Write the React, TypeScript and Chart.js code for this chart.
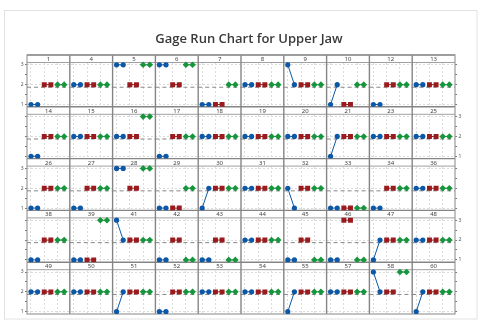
import { useEffect, useRef } from 'react';
import { Chart, registerables } from 'chart.js';

Chart.register(...registerables);

// ---------- data ----------
const title = 'Gage Run Chart for Upper Jaw';

const parts = [
  '1', '4', '5', '6', '7', '8', '9', '10', '12', '13',
  '14', '15', '16', '17', '18', '19', '20', '21', '23', '25',
  '26', '27', '28', '29', '30', '31', '32', '33', '34', '36',
  '38', '39', '41', '42', '43', '44', '45', '46', '47', '48',
  '49', '50', '51', '52', '53', '54', '55', '57', '58', '60',
];

// two trials per part, per operator
const operatorA = [
  [1, 1], [2, 2], [3, 3], [3, 3], [1, 1], [2, 2], [3, 2], [1, 2], [1, 1], [2, 2],
  [1, 1], [2, 2], [2, 2], [1, 1], [2, 2], [2, 2], [2, 2], [1, 2], [2, 2], [2, 2],
  [1, 1], [1, 1], [3, 3], [1, 1], [1, 2], [2, 2], [2, 1], [1, 1], [1, 1], [2, 2],
  [1, 1], [1, 1], [3, 2], [1, 1], [1, 1], [2, 2], [1, 1], [1, 1], [1, 2], [2, 2],
  [2, 2], [2, 2], [1, 2], [1, 1], [2, 2], [2, 2], [1, 2], [2, 2], [3, 2], [1, 2],
];
const operatorB = [
  [2, 2], [2, 2], [2, 2], [2, 2], [1, 1], [2, 2], [2, 2], [1, 1], [2, 2], [2, 2],
  [2, 2], [2, 2], [2, 2], [2, 2], [2, 2], [2, 2], [2, 2], [2, 2], [2, 2], [2, 2],
  [2, 2], [2, 2], [2, 2], [1, 1], [2, 2], [2, 2], [2, 2], [1, 1], [2, 2], [2, 2],
  [2, 2], [1, 1], [2, 2], [2, 2], [2, 2], [2, 2], [2, 2], [3, 3], [2, 2], [2, 2],
  [2, 2], [2, 2], [2, 2], [2, 2], [2, 2], [2, 2], [2, 2], [2, 2], [2, 2], [2, 2],
];
const operatorC = [
  [2, 2], [2, 2], [3, 3], [3, 3], [2, 2], [2, 2], [2, 2], [2, 2], [2, 2], [2, 2],
  [2, 2], [2, 2], [3, 3], [2, 2], [2, 2], [2, 2], [2, 2], [2, 2], [2, 2], [2, 2],
  [2, 2], [2, 2], [3, 3], [2, 2], [2, 2], [2, 2], [2, 2], [1, 1], [2, 2], [2, 2],
  [2, 2], [3, 3], [2, 2], [1, 1], [1, 1], [2, 2], [1, 1], [1, 1], [2, 2], [2, 2],
  [2, 2], [2, 2], [2, 2], [2, 2], [2, 2], [2, 2], [2, 2], [2, 2], [3, 3], [2, 2],
];

const yTicks = [1, 1.5, 2, 2.5, 3];
const xGridTicks = [1, 3, 5];

// ---------- layout / style ----------
const W = 487;
const H = 324;
const NCOLS = 10;
const NROWS = 5;
const X_MIN = 0.4;
const X_MAX = 6.85;
const Y_MIN = 0.884;
const Y_PANEL_TOP = 3.116;
const Y_MAX = 3.494;
const AXIS_W = 10;
const AREA = { left: 27, right: 455, top: 55, bottom: 314 };

const BLUE = '#0c58a6';
const RED = '#9a1b1e';
const GREEN = '#16953d';
const GRID = '#dcdcdc';
const FRAME = '#858585';

const allValues = [...operatorA, ...operatorB, ...operatorC].flat();
const grandMean = allValues.reduce((a, b) => a + b, 0) / allValues.length;

const operators = [
  { name: 'A', values: operatorA, color: BLUE, style: 'circle', radius: 2.6 },
  { name: 'B', values: operatorB, color: RED, style: 'rect', radius: 3.5 },
  { name: 'C', values: operatorC, color: GREEN, style: 'rectRot', radius: 3.3 },
];

function buildDatasets() {
  const datasets: any[] = [];
  parts.forEach((part, i) => {
    const r = Math.floor(i / NCOLS);
    const c = i % NCOLS;
    operators.forEach((op, k) => {
      datasets.push({
        type: 'line',
        label: `Part ${part} – ${op.name}`,
        xAxisID: 'x' + c,
        yAxisID: 'y' + r,
        data: op.values[i].map((v, j) => ({ x: k * 2 + j + 1, y: v })),
        borderColor: op.color,
        backgroundColor: op.color,
        borderWidth: 1,
        pointStyle: op.style,
        pointRadius: op.radius,
        pointBorderWidth: 0,
        pointBackgroundColor: op.color,
        order: 1,
      });
    });
    datasets.push({
      type: 'line',
      label: `Mean ${part}`,
      xAxisID: 'x' + c,
      yAxisID: 'y' + r,
      data: [
        { x: X_MIN, y: grandMean },
        { x: X_MAX, y: grandMean },
      ],
      borderColor: '#858585',
      borderWidth: 1,
      borderDash: [4, 3],
      pointRadius: 0,
      order: 5,
    });
  });
  return datasets;
}

function buildScales() {
  const scales: any = {};
  for (let c = 0; c < NCOLS; c++) {
    scales['x' + c] = {
      type: 'linear',
      axis: 'x',
      position: 'bottom',
      stack: 'cols',
      min: X_MIN,
      max: X_MAX,
      afterBuildTicks: (s: any) => {
        s.ticks = xGridTicks.map((v) => ({ value: v }));
      },
      afterFit: (s: any) => {
        s.height = 0;
      },
      ticks: { display: false, autoSkip: false },
      grid: { color: GRID, lineWidth: 1, drawTicks: false, borderDash: [2, 2] },
      border: { display: false, dash: [2, 2] },
    };
  }
  for (let r = 0; r < NROWS; r++) {
    const common = {
      type: 'linear',
      axis: 'y',
      min: Y_MIN,
      max: Y_MAX,
      afterBuildTicks: (s: any) => {
        s.ticks = yTicks.map((v) => ({ value: v }));
      },
      afterFit: (s: any) => {
        s.width = AXIS_W;
      },
    };
    scales['y' + r] = {
      ...common,
      position: 'left',
      stack: 'rowsL',
      weight: NROWS - r,
      ticks: {
        autoSkip: false,
        padding: 1.5,
        color: '#555',
        font: { size: 5, family: 'Noto Sans' },
        callback: (v: number) => (r % 2 === 0 && Number.isInteger(v) ? String(v) : ''),
      },
      grid: {
        color: (ctx: any) =>
          ctx.tick && Number.isInteger(ctx.tick.value) ? GRID : 'rgba(0,0,0,0)',
        tickColor: '#777',
        tickLength: 2,
        lineWidth: 1,
        borderDash: [2, 2],
      },
      border: { display: false, dash: [2, 2] },
    };
    scales['yr' + r] = {
      ...common,
      position: 'right',
      stack: 'rowsR',
      weight: r,
      ticks: {
        autoSkip: false,
        padding: 1.5,
        color: '#555',
        font: { size: 5, family: 'Noto Sans' },
        callback: (v: number) => (r % 2 === 1 && Number.isInteger(v) ? String(v) : ''),
      },
      grid: {
        drawOnChartArea: false,
        tickColor: '#777',
        tickLength: 2,
        lineWidth: 1,
      },
      border: { display: false },
    };
  }
  return scales;
}

const facetPlugin = {
  id: 'facets',
  beforeDraw(chart: any) {
    const { ctx } = chart;
    ctx.save();
    ctx.fillStyle = '#ffffff';
    ctx.fillRect(0, 0, W, H);
    ctx.strokeStyle = '#e2e2e2';
    ctx.lineWidth = 1;
    ctx.strokeRect(4.5, 10.5, 472.5, 308.5);
    ctx.restore();
  },
  beforeDatasetsDraw(chart: any) {
    const { ctx, chartArea } = chart;
    ctx.save();
    for (let r = 0; r < NROWS; r++) {
      const ys = chart.scales['y' + r];
      const top = ys.top;
      const bot = ys.getPixelForValue(Y_PANEL_TOP);
      ctx.fillStyle = '#ffffff';
      ctx.fillRect(chartArea.left, top, chartArea.right - chartArea.left, bot - top);
      ctx.strokeStyle = '#a0a0a0';
      ctx.lineWidth = 1;
      ctx.beginPath();
      ctx.moveTo(chartArea.left, bot);
      ctx.lineTo(chartArea.right, bot);
      ctx.stroke();
      ctx.strokeStyle = FRAME;
      ctx.lineWidth = 1.4;
      ctx.beginPath();
      ctx.moveTo(chartArea.left, top);
      ctx.lineTo(chartArea.right, top);
      ctx.stroke();
      ctx.fillStyle = '#444';
      ctx.font = '6px "Noto Sans"';
      ctx.textAlign = 'center';
      ctx.textBaseline = 'middle';
      for (let c = 0; c < NCOLS; c++) {
        const xs = chart.scales['x' + c];
        ctx.fillText(parts[r * NCOLS + c], (xs.left + xs.right) / 2, (top + bot) / 2 + 0.5);
      }
    }
    ctx.strokeStyle = FRAME;
    ctx.lineWidth = 1.4;
    for (let c = 1; c < NCOLS; c++) {
      const xs = chart.scales['x' + c];
      ctx.beginPath();
      ctx.moveTo(xs.left, chartArea.top);
      ctx.lineTo(xs.left, chartArea.bottom);
      ctx.stroke();
    }
    ctx.strokeStyle = '#9a9a9a';
    ctx.lineWidth = 1.2;
    ctx.strokeRect(
      chartArea.left,
      chartArea.top,
      chartArea.right - chartArea.left,
      chartArea.bottom - chartArea.top
    );
    ctx.restore();
  },
  afterDraw(chart: any) {
    const { ctx } = chart;
    ctx.save();
    ctx.fillStyle = '#3a3a3a';
    ctx.font = '600 13px "Open Sans"';
    ctx.textAlign = 'center';
    ctx.textBaseline = 'middle';
    ctx.fillText(title, 249, 39.5);
    ctx.restore();
  },
};

export default function App() {
  const ref = useRef<HTMLCanvasElement>(null);
  useEffect(() => {
    const chart = new Chart(ref.current as HTMLCanvasElement, {
      type: 'line',
      data: { datasets: buildDatasets() },
      options: {
        animation: false,
        responsive: false,
        maintainAspectRatio: false,
        devicePixelRatio: 1,
        events: [],
        layout: {
          padding: {
            left: AREA.left - AXIS_W,
            right: W - AREA.right - AXIS_W,
            top: AREA.top,
            bottom: H - AREA.bottom,
          },
        },
        plugins: {
          legend: { display: false },
          title: { display: false },
          tooltip: { enabled: false },
        },
        scales: buildScales(),
      } as any,
      plugins: [facetPlugin],
    });
    return () => chart.destroy();
  }, []);
  return (
    <div style={{ position: 'absolute', left: 0, top: 0, width: W, height: H, background: '#fff' }}>
      <canvas ref={ref} width={W} height={H} style={{ display: 'block', width: W, height: H }} />
    </div>
  );
}
